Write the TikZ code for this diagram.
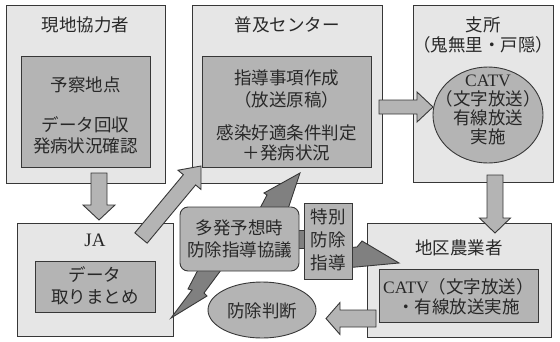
\documentclass[tikz,border=0pt]{standalone}
\usepackage{fontspec}
\setmainfont{Noto Sans CJK JP}
\newfontfamily\lat{Liberation Serif}
\usetikzlibrary{calc,shapes.geometric}
\definecolor{boxfill}{RGB}{230,230,230}
\definecolor{midfill}{RGB}{180,180,180}
\definecolor{darkfill}{RGB}{128,128,128}
\definecolor{edge}{RGB}{55,55,55}
\definecolor{ink}{RGB}{40,40,40}
\newcommand{\blockarr}[6]{%
  \coordinate (bah) at ($(#3)!#6!(#2)$);
  \draw[#1] ($(#2)!#4!90:(#3)$) -- ($(bah)!#4!90:(#3)$) -- ($(bah)!#5!90:(#3)$) -- (#3)
    -- ($(bah)!#5!-90:(#3)$) -- ($(bah)!#4!-90:(#3)$) -- ($(#2)!#4!-90:(#3)$) -- cycle;}
\begin{document}
\begin{tikzpicture}[x=1pt,y=-1pt,
  outer/.style={draw=edge, fill=boxfill, line width=0.9pt, inner sep=0pt},
  inner/.style={draw=edge, fill=midfill, line width=0.9pt, inner sep=0pt},
  txt/.style={inner sep=0pt, align=center, text=ink, font=\fontsize{17.5}{21}\selectfont},
  light/.style={draw=edge, fill=midfill, line width=0.9pt, line join=miter},
  dark/.style={draw=edge, fill=darkfill, line width=0.9pt, line join=miter}]
\useasboundingbox (0,0) rectangle (560,341);
% outer boxes
\node[outer, minimum width=159pt, minimum height=178pt] (A) at (85.5,94) {};
\node[inner, minimum width=129pt, minimum height=111pt] (Ain) at (85.5,111.5) {};
\node[outer, minimum width=190pt, minimum height=178pt] (B) at (287,94) {};
\node[inner, minimum width=169pt, minimum height=111pt] (Bin) at (286.5,111.5) {};
\node[outer, minimum width=140pt, minimum height=177pt] (C) at (483,93.5) {};
\node[inner, ellipse, minimum width=110pt, minimum height=96pt] (Cin) at (488,115) {};
\node[outer, minimum width=156pt, minimum height=113pt] (D) at (95,279.5) {};
\node[inner, minimum width=120pt, minimum height=51pt] (Din) at (95,286.5) {};
\node[outer, minimum width=184pt, minimum height=114pt] (E) at (459,280) {};
\node[inner, minimum width=159pt, minimum height=53pt] (Ein) at (458.5,295.5) {};
% texts
\node[txt] (At) at (85.5,25) {現地協力者};
\node[txt] (Ai1) at (85.5,85) {予察地点};
\node[txt] (Ai2) at (85.5,135.5) {データ回収\\発病状況確認};
\node[txt] (Bt) at (287,25) {普及センター};
\node[txt, font=\fontsize{17.5}{22}\selectfont] (Bi1) at (286.5,89) {指導事項作成\\（放送原稿）};
\node[txt, font=\fontsize{17.5}{20}\selectfont] (Bi2) at (286.5,143) {感染好適条件判定\\＋発病状況};
\node[txt, font=\fontsize{17.5}{20}\selectfont] (Ct) at (483,35) {支所\\（鬼無里・戸隠）};
\node[txt, font=\fontsize{17.5}{19}\selectfont] (Ce) at (488,110) {{\lat CATV}\\（文字放送）\\有線放送\\実施};
\node[txt] (Dt) at (95,240) {{\lat\fontsize{19}{21}\selectfont JA}};
\node[txt, font=\fontsize{17.5}{22}\selectfont] (Di) at (95,286) {データ\\取りまとめ};
\node[txt] (Et) at (459,248) {地区農業者};
\node[txt, font=\fontsize{17.5}{20}\selectfont] (Ei) at (458.5,297) {{\lat CATV}（文字放送）\\・有線放送実施};
% block arrows
\coordinate (adS) at (99,173);   \coordinate (adT) at (99,220);
\coordinate (bcS) at (379,107);  \coordinate (bcT) at (433,107);
\coordinate (ceS) at (495,175);  \coordinate (ceT) at (495,233);
\coordinate (ehS) at (376,318.5);\coordinate (ehT) at (326,318.5);
\coordinate (dbS) at (141,238);  \coordinate (dbT) at (201,166);
\blockarr{light}{adS}{adT}{8pt}{16pt}{15pt}
\blockarr{light}{bcS}{bcT}{7pt}{15pt}{16pt}
\blockarr{light}{ceS}{ceT}{8pt}{15.5pt}{15pt}
\blockarr{light}{ehS}{ehT}{8.5pt}{16pt}{14pt}
\blockarr{light}{dbS}{dbT}{8pt}{15pt}{18pt}
% lightning arrows
\draw[dark] (258,212) -- (267,195) -- (264,193) -- (300,173) -- (287,212) -- cycle;
\draw[dark] (200,266) -- (188,289) -- (192,290) -- (171,318) -- (207,296) -- (204,293) -- (224,266) -- cycle;
\draw[dark] (345,248) -- (357,247) -- (362,241) -- (399,263) -- (345,268) -- cycle;
\draw[dark] (295,230) rectangle (308,248);
% middle nodes
\node[inner, rounded corners=8pt, minimum width=119pt, minimum height=64pt] (F) at (239.5,239) {};
\node[txt, font=\fontsize{17.5}{22}\selectfont] (Ft) at (239.5,239) {多発予想時\\防除指導協議};
\node[inner, minimum width=48pt, minimum height=76pt] (G) at (328,241) {};
\node[txt, font=\fontsize{17.5}{23}\selectfont] (Gt) at (328,240) {特別\\防除\\指導};
\node[inner, ellipse, minimum width=108pt, minimum height=56pt] (H) at (262,310) {};
\node[txt] (Ht) at (262,311) {防除判断};
\end{tikzpicture}
\end{document}
